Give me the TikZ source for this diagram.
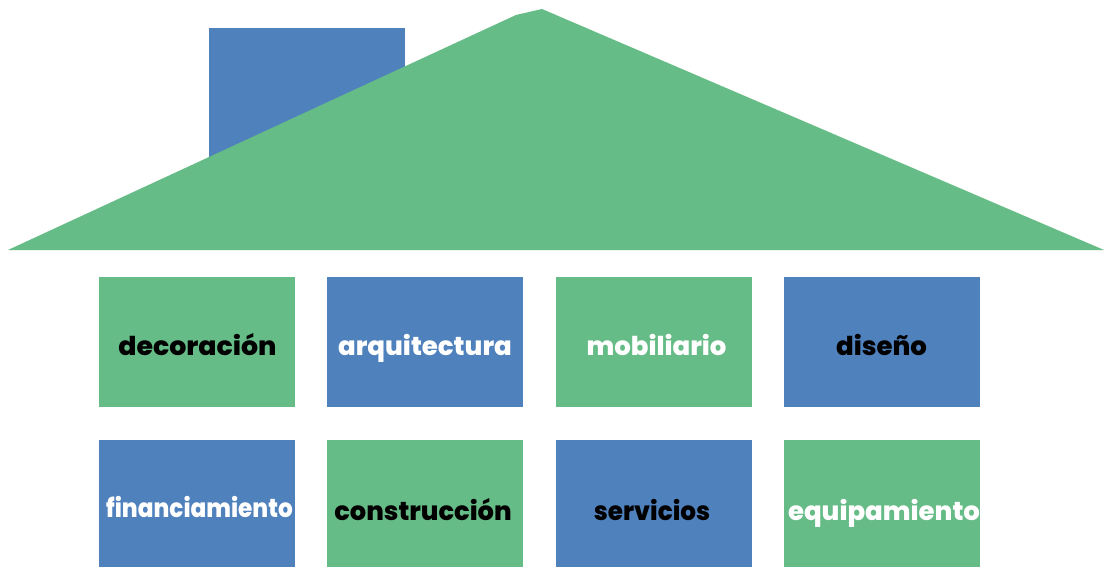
\documentclass[tikz,border=0pt]{standalone}
\usepackage{graphicx}
\usepackage{fontspec}
\setmainfont{Poppins}[BoldFont=* ExtraBold,BoldItalicFont=* ExtraBold Italic]
\definecolor{hgreen}{HTML}{66BC87}
\definecolor{hblue}{HTML}{4F81BD}
\newcommand{\squeezed}[2]{\scalebox{#1}[1]{#2}}
\tikzset{
  room/.style={minimum width=196pt,minimum height=130pt,inner sep=0pt,outer sep=0pt,draw=none},
  gbox/.style={room,fill=hgreen},
  bbox/.style={room,fill=hblue},
  lbl/.style={font=\fontsize{26}{26}\selectfont\bfseries,inner sep=0pt,anchor=base}
}
\begin{document}
\begin{tikzpicture}[x=1pt,y=-1pt]
\useasboundingbox (0,0) rectangle (1104,567);
\fill[white] (0,0) rectangle (1104,567);
\node[bbox,anchor=north west] (chimney) at (209,28) {};
\fill[hgreen] (8,250) -- (516,15) -- (542,9) -- (1104,250) -- cycle;
\node[gbox,anchor=north west] (a1) at (98.5,277) {};
\node[bbox,anchor=north west] (a2) at (327,277) {};
\node[gbox,anchor=north west] (a3) at (555.5,277) {};
\node[bbox,anchor=north west] (a4) at (784,277) {};
\node[bbox,anchor=north west] (b1) at (98.5,440) {};
\node[gbox,anchor=north west] (b2) at (327,440) {};
\node[bbox,anchor=north west] (b3) at (555.5,440) {};
\node[gbox,anchor=north west] (b4) at (784,440) {};
\node[lbl,black] (t1) at (197.5,355) {\squeezed{1.03}{decoración}};
\node[lbl,white] (t2) at (425,355) {arquitectura};
\node[lbl,white] (t3) at (656.5,355) {mobiliario};
\node[lbl,black] (t4) at (881.5,355) {diseño};
\node[lbl,white] (t5) at (199.5,517) {\squeezed{.89}{financiamiento}};
\node[lbl,black] (t6) at (423,520) {\squeezed{.99}{construcción}};
\node[lbl,black] (t7) at (652,520) {\squeezed{.95}{servicios}};
\node[lbl,white] (t8) at (884,520) {equipamiento};
\end{tikzpicture}
\end{document}
